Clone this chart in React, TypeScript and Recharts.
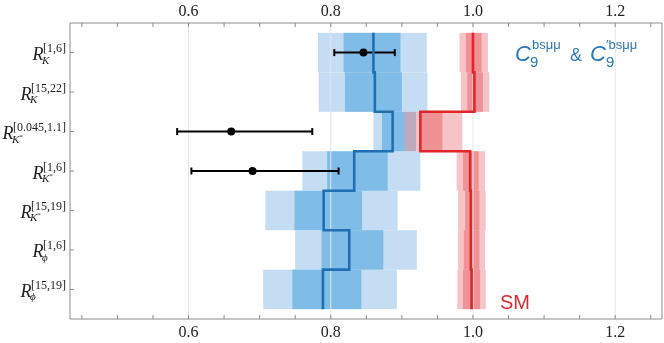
import React from "react";
import {
  ComposedChart,
  XAxis,
  YAxis,
  ReferenceArea,
  ReferenceLine,
  Scatter,
  ErrorBar,
} from "recharts";

// ---- data ----
const rows = [1, 2, 3, 4, 5, 6, 7];
const supLabels = ["[1,6]", "[15,22]", "[0.045,1.1]", "[1,6]", "[15,19]", "[1,6]", "[15,19]"];
const subLabels = ["K", "K", "K*", "K*", "K*", "ϕ", "ϕ"];

// new physics fit (C9 & C9')
const npCentral = [0.86, 0.862, 0.887, 0.833, 0.79, 0.826, 0.789];
const np1Lo = [0.818, 0.82, 0.872, 0.795, 0.749, 0.787, 0.746];
const np1Hi = [0.898, 0.9, 0.904, 0.88, 0.844, 0.874, 0.843];
const np2Lo = [0.782, 0.783, 0.86, 0.76, 0.708, 0.75, 0.705];
const np2Hi = [0.935, 0.936, 0.92, 0.926, 0.894, 0.921, 0.893];

// Standard Model
const smCentral = [1.0, 1.002, 0.926, 0.996, 0.997, 0.997, 0.998];
const sm1Lo = [0.99, 0.992, 0.926, 0.986, 0.989, 0.987, 0.986];
const sm1Hi = [1.012, 1.014, 0.957, 1.008, 1.009, 1.009, 1.01];
const sm2Lo = [0.981, 0.983, 0.904, 0.977, 0.979, 0.979, 0.978];
const sm2Hi = [1.021, 1.023, 0.985, 1.017, 1.018, 1.017, 1.018];

// measurements
const measRows = [1, 3, 4];
const measValues = [0.846, 0.66, 0.69];
const measErrLo = [0.041, 0.076, 0.086];
const measErrHi = [0.044, 0.114, 0.121];

const xTicks = [0.45, 0.5, 0.55, 0.6, 0.65, 0.7, 0.75, 0.8, 0.85, 0.9, 0.95, 1.0, 1.05, 1.1, 1.15, 1.2, 1.25];
const xMajor = [0.6, 0.8, 1.0, 1.2];
const xDomain = [0.4333, 1.2658];
const yDomain = [0.25, 7.75];

// ---- layout / styling ----
const W = 664;
const H = 343;
const TOP_H = 23;
const BOT_H = 24;
const LEFT_W = 70;
const RIGHT_W = 2;
const PLOT_TOP = TOP_H;
const PLOT_BOTTOM = H - BOT_H;
const PLOT_LEFT = LEFT_W;

const SERIF = '"Liberation Serif", "Times New Roman", serif';
const SANS = '"Liberation Sans", Arial, sans-serif';
const AXIS = "#8c8c8c";
const BLUE_LIGHT = "#c4ddf2";
const BLUE_DARK = "#80bce8";
const BLUE_LINE = "#1f6fb2";
const RED_LIGHT = "#f6c4c7";
const RED_DARK = "#ee9296";
const RED_LINE = "#e0262b";
const LEGEND_BLUE = "#2a78b6";
const SM_RED = "#dc2a2f";

const stepData = (centers: number[]) => {
  const pts: { x: number; y: number }[] = [];
  centers.forEach((c, i) => {
    pts.push({ x: c, y: rows[i] - 0.5 });
    pts.push({ x: c, y: rows[i] + 0.5 });
  });
  return pts;
};
const npStep = stepData(npCentral);
const smStep = stepData(smCentral);
const measData = measRows.map((r, i) => ({
  x: measValues[i],
  y: r,
  err: [measErrLo[i], measErrHi[i]],
}));

let canvasCtx: CanvasRenderingContext2D | null = null;
const measure = (s: string, font: string) => {
  if (!canvasCtx) {
    const c = document.createElement("canvas");
    canvasCtx = c.getContext("2d");
  }
  if (!canvasCtx) return s.length * 5.5;
  canvasCtx.font = font;
  return canvasCtx.measureText(s).width;
};

const isMajor = (v: number) => xMajor.some((m) => Math.abs(m - v) < 1e-6);

const TopTick = (props: any) => {
  const { x, payload } = props;
  const v = payload.value;
  const y = PLOT_TOP;
  return (
    <g>
      <line x1={x} x2={x} y1={y} y2={y + 4} stroke={AXIS} strokeWidth={1} />
      {isMajor(v) && (
        <text x={x} y={y - 7} textAnchor="middle" fontFamily={SERIF} fontSize={16} fill="#222">
          {v.toFixed(1)}
        </text>
      )}
    </g>
  );
};

const BottomTick = (props: any) => {
  const { x, payload } = props;
  const v = payload.value;
  const y = PLOT_BOTTOM;
  return (
    <g>
      <line x1={x} x2={x} y1={y} y2={y - 4} stroke={AXIS} strokeWidth={1} />
      {isMajor(v) && (
        <text x={x} y={y + 18} textAnchor="middle" fontFamily={SERIF} fontSize={16} fill="#222">
          {v.toFixed(1)}
        </text>
      )}
    </g>
  );
};

const LeftTick = (props: any) => {
  const { y, payload } = props;
  const x = PLOT_LEFT;
  const i = rows.indexOf(payload.value);
  if (i < 0) return null;
  const sup = supLabels[i];
  const sub = subLabels[i];
  const base = sub.replace("*", "");
  const star = sub.includes("*");
  const right = x - 4;
  const supW = measure(sup, `12px ${SERIF}`);
  const x0 = right - supW;
  return (
    <g>
      <line x1={x} x2={x + 4} y1={y} y2={y} stroke={AXIS} strokeWidth={1} />
      <text x={x0 + 0.5} y={y + 7.5} textAnchor="end" fontFamily={SERIF} fontStyle="italic" fontSize={18} fill="#222">
        R
      </text>
      <text x={right} y={y - 0.5} textAnchor="end" fontFamily={SERIF} fontSize={12} fill="#222">
        {sup}
      </text>
      <text x={x0 - 1} y={y + 11} fontFamily={SERIF} fontStyle="italic" fontSize={11} fill="#222">
        {base}
        {star && (
          <tspan fontSize={7} dy={-4} fontStyle="normal">
            *
          </tspan>
        )}
      </text>
    </g>
  );
};

const blendRect = (fill: string) => (p: any) => (
  <rect x={p.x} y={p.y} width={p.width} height={p.height} fill={fill} style={{ mixBlendMode: "multiply" }} />
);

const plainRect = (fill: string) => (p: any) => (
  <rect x={p.x} y={p.y} width={p.width} height={p.height} fill={fill} />
);

const noShape = () => <g />;
const dotShape = (p: any) => <circle cx={p.cx} cy={p.cy} r={4} fill="#000" />;

export default function App() {
  return (
    <div style={{ position: "absolute", left: 0, top: 0, width: W, height: H, background: "#fff" }}>
      <ComposedChart width={W} height={H} margin={{ top: 0, right: 0, bottom: 0, left: 0 }}>
        <XAxis
          xAxisId={0}
          orientation="top"
          type="number"
          dataKey="x"
          domain={xDomain}
          allowDataOverflow
          ticks={xTicks}
          interval={0}
          height={TOP_H}
          tickSize={0}
          tickMargin={0}
          tickLine={false}
          axisLine={{ stroke: AXIS }}
          tick={<TopTick />}
        />
        <XAxis
          xAxisId="b"
          orientation="bottom"
          type="number"
          dataKey="x"
          domain={xDomain}
          allowDataOverflow
          ticks={xTicks}
          interval={0}
          height={BOT_H}
          tickSize={0}
          tickMargin={0}
          tickLine={false}
          axisLine={{ stroke: AXIS }}
          tick={<BottomTick />}
        />
        <YAxis
          yAxisId={0}
          type="number"
          dataKey="y"
          domain={yDomain}
          allowDataOverflow
          reversed
          ticks={rows}
          interval={0}
          width={LEFT_W}
          tickSize={0}
          tickMargin={0}
          tickLine={false}
          axisLine={{ stroke: AXIS }}
          tick={<LeftTick />}
        />
        <YAxis
          yAxisId="r"
          orientation="right"
          type="number"
          dataKey="y"
          domain={yDomain}
          allowDataOverflow
          reversed
          width={RIGHT_W}
          tick={false}
          tickLine={false}
          axisLine={{ stroke: AXIS }}
        />

        {xMajor.map((v) => (
          <ReferenceLine key={"g" + v} x={v} stroke="#e6e6e6" strokeWidth={1} />
        ))}

        {rows.map((r, i) => (
          <ReferenceArea
            key={"nl" + r}
            x1={np2Lo[i]}
            x2={np2Hi[i]}
            y1={r - 0.5}
            y2={r + 0.5}
            shape={plainRect(BLUE_LIGHT)}
          />
        ))}
        {rows.map((r, i) => (
          <ReferenceArea
            key={"nd" + r}
            x1={np1Lo[i]}
            x2={np1Hi[i]}
            y1={r - 0.5}
            y2={r + 0.5}
            shape={plainRect(BLUE_DARK)}
          />
        ))}
        {rows.map((r, i) => (
          <ReferenceArea
            key={"sl" + r}
            x1={sm2Lo[i]}
            x2={sm2Hi[i]}
            y1={r - 0.5}
            y2={r + 0.5}
            shape={blendRect(RED_LIGHT)}
          />
        ))}
        {rows.map((r, i) => (
          <ReferenceArea
            key={"sd" + r}
            x1={sm1Lo[i]}
            x2={sm1Hi[i]}
            y1={r - 0.5}
            y2={r + 0.5}
            shape={plainRect(RED_DARK)}
          />
        ))}

        {/* invisible series binding the bottom and right axes */}
        <Scatter xAxisId="b" yAxisId="r" data={measData} shape={noShape} isAnimationActive={false} />

        <Scatter
          data={npStep}
          line={{ stroke: BLUE_LINE, strokeWidth: 2.6 }}
          lineType="joint"
          shape={noShape}
          isAnimationActive={false}
        />
        <Scatter
          data={smStep}
          line={{ stroke: RED_LINE, strokeWidth: 2.6 }}
          lineType="joint"
          shape={noShape}
          isAnimationActive={false}
        />
        <Scatter data={measData} shape={dotShape} isAnimationActive={false}>
          <ErrorBar dataKey="err" direction="x" width={3.5} stroke="#000" strokeWidth={2} isAnimationActive={false} />
        </Scatter>
      </ComposedChart>
      <svg
        width={W}
        height={H}
        style={{ position: "absolute", left: 0, top: 0, pointerEvents: "none" }}
      >
        <g fill={LEGEND_BLUE} fontFamily={SANS}>
          <text x={515} y={61} fontSize={22} fontStyle="italic">C</text>
          <text x={530} y={67} fontSize={15}>9</text>
          <text x={532} y={49} fontSize={13}>bsμμ</text>
          <text x={570} y={61} fontSize={18}>&amp;</text>
          <text x={590} y={61} fontSize={22} fontStyle="italic">C</text>
          <text x={606} y={67} fontSize={15}>9</text>
          <text x={606} y={49} fontSize={13}>′bsμμ</text>
        </g>
        <text x={500} y={309} fontFamily={SANS} fontSize={20} fill={SM_RED}>SM</text>
      </svg>
    </div>
  );
}
